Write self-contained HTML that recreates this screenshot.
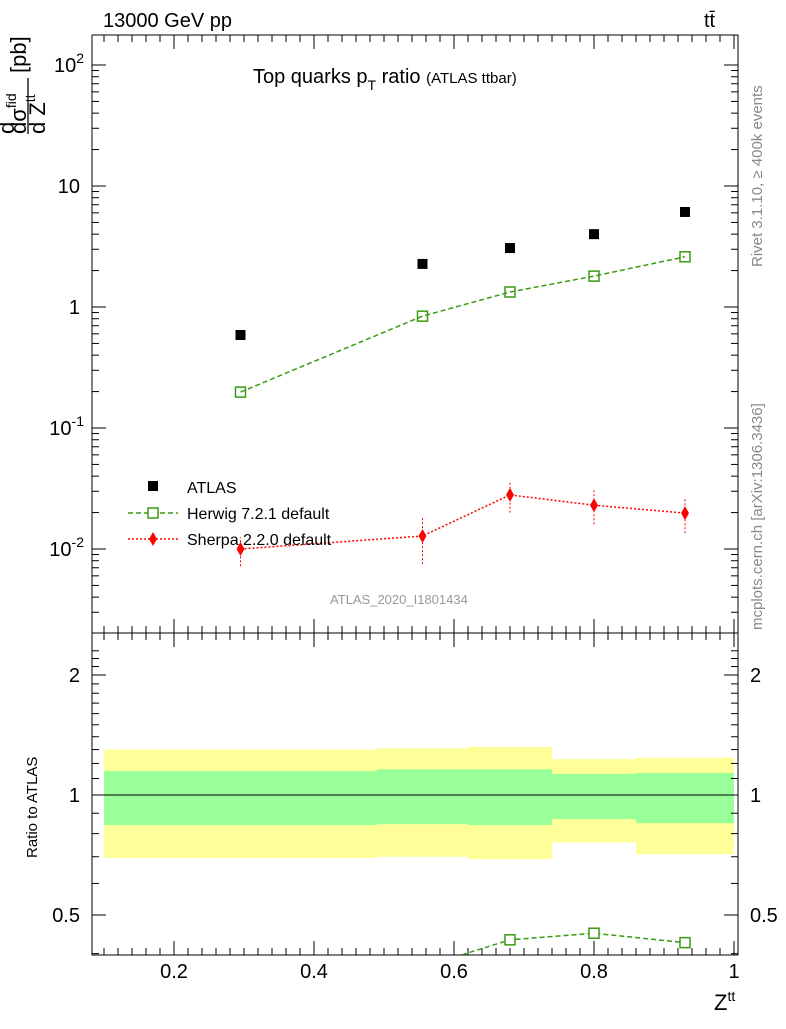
<!DOCTYPE html>
<html><head><meta charset="utf-8"><style>body{margin:0;background:#fff}svg{font-family:"Liberation Sans",sans-serif}</style></head>
<body>
<svg id="c" width="786" height="1024">
<g id="g"></g>
</svg>
<script>
const xs=[0.295,0.555,0.68,0.80,0.93];
const atlas=[0.587,2.27,3.07,4.0,6.1];
const herwig=[0.198,0.84,1.33,1.8,2.6];
const sherpa=[0.010,0.0128,0.028,0.023,0.0198];
const sherpaLo=[0.0072,0.0075,0.020,0.016,0.0135];
const sherpaHi=[0.0125,0.018,0.036,0.031,0.026];
const binEdges=[0.1,0.49,0.62,0.74,0.86,1.0];
const yelHi=[1.30,1.31,1.32,1.23,1.24];
const yelLo=[0.695,0.70,0.69,0.76,0.71];
const grnHi=[1.149,1.16,1.16,1.13,1.135];
const grnLo=[0.84,0.845,0.84,0.87,0.85];
const xTicks=[0.2,0.4,0.6,0.8,1];
const NS="http://www.w3.org/2000/svg",G=document.getElementById('g');
function X(v){return 174+(v-0.2)*700;}
function Y(v){return 307-121*Math.log10(v);}
function R(v){return 795-120*Math.log2(v);}
function el(t,a,txt){const e=document.createElementNS(NS,t);for(const k in a)e.setAttribute(k,a[k]);if(txt!==undefined)e.textContent=txt;G.appendChild(e);return e;}
const L=92,Rt=738,T=35,M=633,B=955;
let e;
for(let i=0;i<5;i++){
 e=el('rect',{x:X(binEdges[i]),y:R(yelHi[i]),width:X(binEdges[i+1])-X(binEdges[i]),height:R(yelLo[i])-R(yelHi[i]),fill:'#ffff99'});
 
 e=el('rect',{x:X(binEdges[i]),y:R(grnHi[i]),width:X(binEdges[i+1])-X(binEdges[i]),height:R(grnLo[i])-R(grnHi[i]),fill:'#99ff99'});
 
}
el('line',{x1:L,x2:Rt,y1:R(1),y2:R(1),stroke:'#000'});
e=el('rect',{x:L,y:T,width:Rt-L,height:M-T,fill:'none',stroke:'#000'});
e=el('rect',{x:L,y:M,width:Rt-L,height:B-M,fill:'none',stroke:'#000'});
xTicks.forEach(v=>{
 for(const [y0,d] of [[B,-1],[M,-1],[M,1],[T,1]]){el('line',{x1:X(v),x2:X(v),y1:y0,y2:y0+d*14,stroke:'#000'});}
 e=el('text',{x:X(v),y:978,'font-size':20,'text-anchor':'middle'},String(v));
});
for(let v=0.1;v<1.01;v+=0.02){if(X(v)<L||X(v)>Rt)continue;for(const [y0,d] of [[B,-1],[M,-1],[M,1],[T,1]])el('line',{x1:X(v),x2:X(v),y1:y0,y2:y0+d*7,stroke:'#000'});}
for(let p=-3;p<=2;p++){for(let k=1;k<10;k++){const v=k*Math.pow(10,p);const y=Y(v);if(y<T||y>M)continue;const l=k==1?14:7;el('line',{x1:L,x2:L+l,y1:y,y2:y,stroke:'#000'});el('line',{x1:Rt,x2:Rt-l,y1:y,y2:y,stroke:'#000'});}}
[2,1,0,-1,-2].forEach(p=>{
 const t=el('text',{x:80,y:Y(Math.pow(10,p))+7,'font-size':20,'text-anchor':'end'});
 
 if(p==2||p<0){t.textContent='10';const ts=document.createElementNS(NS,'tspan');ts.setAttribute('dy','-9');ts.setAttribute('font-size','14');ts.textContent=String(p);t.appendChild(ts);t.setAttribute('x',84);}
 else t.textContent=p==1?'10':'1';
});
[0.5,1,2].forEach(v=>{el('line',{x1:L,x2:L+14,y1:R(v),y2:R(v),stroke:'#000'});el('line',{x1:Rt,x2:Rt-14,y1:R(v),y2:R(v),stroke:'#000'});
 e=el('text',{x:80,y:R(v)+7,'font-size':20,'text-anchor':'end'},String(v));
 e=el('text',{x:750,y:R(v)+7,'font-size':20},String(v));});
for(let v=0.4;v<2.4;v+=0.1){const y=R(v);if(y<M||y>B)continue;el('line',{x1:L,x2:L+7,y1:y,y2:y,stroke:'#000'});el('line',{x1:Rt,x2:Rt-7,y1:y,y2:y,stroke:'#000'});}
e=el('polyline',{points:xs.map((x,i)=>X(x)+','+Y(herwig[i])).join(' '),fill:'none',stroke:'#3a9a10','stroke-width':1.5,'stroke-dasharray':'5,3'});
xs.forEach((x,i)=>{e=el('rect',{x:X(x)-5,y:Y(herwig[i])-5,width:10,height:10,fill:'none',stroke:'#3a9a10','stroke-width':1.5});});
e=el('polyline',{points:xs.map((x,i)=>X(x)+','+Y(sherpa[i])).join(' '),fill:'none',stroke:'#f00','stroke-width':1.5,'stroke-dasharray':'2,2'});
xs.forEach((x,i)=>{el('line',{x1:X(x),x2:X(x),y1:Y(sherpaLo[i]),y2:Y(sherpaHi[i]),stroke:'#f00','stroke-dasharray':'2,2'});
 e=el('path',{d:`M${X(x)},${Y(sherpa[i])-7}l4,7l-4,7l-4,-7z`,fill:'#f00'});});
xs.forEach((x,i)=>{e=el('rect',{x:X(x)-5,y:Y(atlas[i])-5,width:10,height:10,fill:'#000'});});
const cp=el('clipPath',{id:'cr'});const cr=document.createElementNS(NS,'rect');
cr.setAttribute('x',L);cr.setAttribute('y',M);cr.setAttribute('width',Rt-L);cr.setAttribute('height',B-M);cp.appendChild(cr);
e=el('polyline',{points:xs.map((x,i)=>X(x)+','+R(herwig[i]/atlas[i])).join(' '),fill:'none',stroke:'#3a9a10','stroke-width':1.5,'stroke-dasharray':'5,3','clip-path':'url(#cr)'});
xs.forEach((x,i)=>{const y=R(herwig[i]/atlas[i]);if(y>B)return;e=el('rect',{x:X(x)-5,y:y-5,width:10,height:10,fill:'#fff',stroke:'#3a9a10','stroke-width':1.5});});
</script>
<svg width="786" height="1024" style="position:absolute;left:0;top:0">
<text x="103" y="27" font-size="20">13000 GeV pp</text>
<text x="704" y="27" font-size="20">tt̄</text>
<text x="253" y="83" font-size="20">Top quarks p<tspan dy="7" font-size="14">T</tspan><tspan dy="-7"> ratio </tspan><tspan font-size="15">(ATLAS ttbar)</tspan></text>
<g font-size="22">
<text transform="translate(14,134) rotate(-90)">d</text>
<text transform="translate(26,134) rotate(-90)">dσ<tspan font-size="14" dy="-10">fid</tspan></text>
<text transform="translate(45,134) rotate(-90)">d Z<tspan font-size="14" dy="-10">tt</tspan></text>
<text transform="translate(26,73) rotate(-90)">[pb]</text>
<line x1="28" y1="134" x2="28" y2="78" stroke="#000" stroke-width="1.3"/>
</g>
<text transform="translate(37,858) rotate(-90)" font-size="15">Ratio to ATLAS</text>
<text x="714" y="1010" font-size="22">Z<tspan font-size="14" dy="-9">tt</tspan></text>
<text x="330" y="604" font-size="13" fill="#999">ATLAS_2020_I1801434</text>
<text transform="translate(762,267) rotate(-90)" font-size="15" fill="#888">Rivet 3.1.10, ≥ 400k events</text>
<text transform="translate(762,630) rotate(-90)" font-size="15" fill="#888">mcplots.cern.ch [arXiv:1306.3436]</text>
<g font-size="16">
<rect x="148" y="481" width="10" height="10" fill="#000"/><text x="187" y="493">ATLAS</text>
<line x1="128" y1="513" x2="178" y2="513" stroke="#3a9a10" stroke-dasharray="5,3" stroke-width="1.5"/><rect x="148" y="508" width="10" height="10" fill="#fff" stroke="#3a9a10" stroke-width="1.5"/><text x="187" y="519">Herwig 7.2.1 default</text>
<line x1="128" y1="539" x2="178" y2="539" stroke="#f00" stroke-dasharray="2,2" stroke-width="1.5"/><path d="M153,532l4,7l-4,7l-4,-7z" fill="#f00"/><text x="187" y="545">Sherpa 2.2.0 default</text>
</g>
</svg>
</body></html>
